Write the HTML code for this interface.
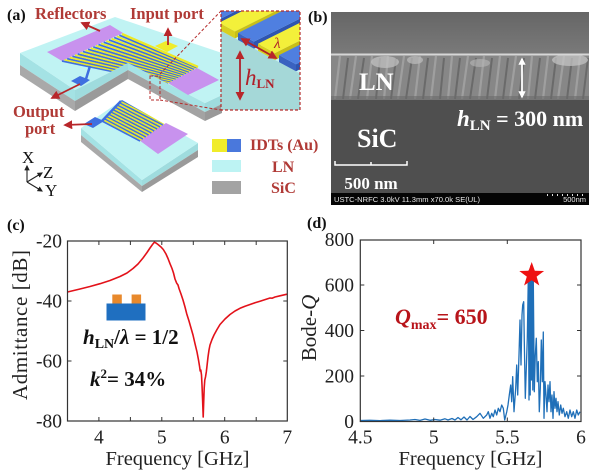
<!DOCTYPE html>
<html><head><meta charset="utf-8"><style>
html,body{margin:0;padding:0;background:#fff;}
svg{display:block;}
text{font-family:"Liberation Serif","Times New Roman",serif;}
</style></head><body>
<svg width="600" height="474" viewBox="0 0 600 474" xmlns="http://www.w3.org/2000/svg" font-family="'Liberation Serif','Times New Roman',serif">
<defs>
<clipPath id="inclip"><rect x="221" y="11" width="79" height="99"/></clipPath>
<clipPath id="semclip"><rect x="331" y="12" width="258" height="193"/></clipPath>
<clipPath id="topface"><polygon points="20,53 115,17 222,53 222,95 205,103 128,63 75,90"/></clipPath>
<clipPath id="lowface"><polygon points="81,128 122,100 198,143 142,180"/></clipPath>
<linearGradient id="semtop" x1="0" y1="0" x2="0" y2="1"><stop offset="0" stop-color="#666"/><stop offset="1" stop-color="#7a7a7a"/></linearGradient>
<marker id="ah" viewBox="0 0 10 10" refX="8" refY="5" markerWidth="5" markerHeight="5" orient="auto-start-reverse"><path d="M0,0 L10,5 L0,10 z" fill="#b8262a"/></marker>
<marker id="ahw" viewBox="0 0 10 10" refX="8" refY="5" markerWidth="4" markerHeight="4" orient="auto-start-reverse"><path d="M0,0 L10,5 L0,10 z" fill="#fff"/></marker>
<marker id="ahk" viewBox="0 0 10 10" refX="8" refY="5" markerWidth="5" markerHeight="5" orient="auto-start-reverse"><path d="M0,0 L10,5 L0,10 z" fill="#222"/></marker>
</defs>
<rect width="600" height="474" fill="#fff"/>

<!-- ============ PANEL (a) ============ -->
<polygon points="20,53 75,90 75,101 20,65" fill="#a4e2e4"/>
<polygon points="20,65 75,101 75,111 20,75" fill="#a9a9a9"/>
<polygon points="75,90 128,63 128,70 75,101" fill="#9fdcde"/>
<polygon points="75,101 128,70 128,79 75,111" fill="#9a9a9a"/>
<polygon points="128,63 205,103 205,112 128,70" fill="#a6e3e5"/>
<polygon points="128,70 205,112 205,121 128,79" fill="#a3a3a3"/>
<polygon points="205,103 222,95 222,104 205,112" fill="#9fdcde"/>
<polygon points="205,112 222,104 222,113 205,121" fill="#999"/>
<polygon points="20,53 115,17 222,53 222,95 205,103 128,63 75,90" fill="#c0f3f3"/>
<polygon points="47,52 110,25 123,33 62,61" fill="#c892ee"/>
<polygon points="168,83 197,68 219,80 188,95" fill="#c892ee"/>
<g clip-path="url(#topface)" stroke-width="1.7">
<line x1="62" y1="61" x2="168" y2="83" stroke="#3f6fe0"/>
<line x1="64.6" y1="59.8" x2="169.3" y2="82.3" stroke="#ece826"/>
<line x1="67.2" y1="58.7" x2="170.6" y2="81.6" stroke="#3f6fe0"/>
<line x1="69.8" y1="57.5" x2="171.9" y2="80.9" stroke="#ece826"/>
<line x1="72.4" y1="56.3" x2="173.2" y2="80.2" stroke="#3f6fe0"/>
<line x1="75" y1="55.1" x2="174.5" y2="79.5" stroke="#ece826"/>
<line x1="77.7" y1="54" x2="175.8" y2="78.8" stroke="#3f6fe0"/>
<line x1="80.3" y1="52.8" x2="177.1" y2="78.1" stroke="#ece826"/>
<line x1="82.9" y1="51.6" x2="178.4" y2="77.4" stroke="#3f6fe0"/>
<line x1="85.5" y1="50.4" x2="179.7" y2="76.7" stroke="#ece826"/>
<line x1="88.1" y1="49.3" x2="181" y2="76" stroke="#3f6fe0"/>
<line x1="90.7" y1="48.1" x2="182.3" y2="75.3" stroke="#ece826"/>
<line x1="93.3" y1="46.9" x2="183.7" y2="74.7" stroke="#3f6fe0"/>
<line x1="95.9" y1="45.7" x2="185" y2="74" stroke="#ece826"/>
<line x1="98.5" y1="44.6" x2="186.3" y2="73.3" stroke="#3f6fe0"/>
<line x1="101.1" y1="43.4" x2="187.6" y2="72.6" stroke="#ece826"/>
<line x1="103.7" y1="42.2" x2="188.9" y2="71.9" stroke="#3f6fe0"/>
<line x1="106.3" y1="41" x2="190.2" y2="71.2" stroke="#ece826"/>
<line x1="109" y1="39.9" x2="191.5" y2="70.5" stroke="#3f6fe0"/>
<line x1="111.6" y1="38.7" x2="192.8" y2="69.8" stroke="#ece826"/>
<line x1="114.2" y1="37.5" x2="194.1" y2="69.1" stroke="#3f6fe0"/>
<line x1="116.8" y1="36.3" x2="195.4" y2="68.4" stroke="#ece826"/>
<line x1="119.4" y1="35.2" x2="196.7" y2="67.7" stroke="#3f6fe0"/>
<line x1="122" y1="34" x2="198" y2="67" stroke="#ece826" stroke-width="2.4"/>
</g>
<polygon points="155,46 166,41 178,46 167,52" fill="#f0ec2a"/>
<polygon points="71,81 80,76 90,80 81,86" fill="#3f6fe0"/>
<line x1="86" y1="79" x2="90" y2="66" stroke="#3f6fe0" stroke-width="2.5"/>
<rect x="150" y="76" width="10" height="24" fill="none" stroke="#b52a2a" stroke-width="1" stroke-dasharray="3,2"/>
<line x1="160" y1="74" x2="221" y2="11" stroke="#b52a2a" stroke-width="1" stroke-dasharray="3,2"/>
<line x1="160" y1="100" x2="221" y2="110" stroke="#b52a2a" stroke-width="1" stroke-dasharray="3,2"/>

<!-- lower slab -->
<polygon points="81,128 142,180 142,186 81,135" fill="#a4e2e4"/>
<polygon points="81,135 142,186 142,192 81,142" fill="#a9a9a9"/>
<polygon points="142,180 198,143 198,150 142,186" fill="#9fdcde"/>
<polygon points="142,186 198,150 198,157 142,192" fill="#9a9a9a"/>
<polygon points="81,128 122,100 198,143 142,180" fill="#c0f3f3"/>
<polygon points="139,140 166,123 188,134 158,154" fill="#c892ee"/>
<g clip-path="url(#lowface)" stroke-width="1.6">
<line x1="122" y1="99" x2="167" y2="122" stroke="#ece826"/>
<line x1="120.9" y1="100.2" x2="165.6" y2="123" stroke="#3f6fe0"/>
<line x1="119.9" y1="101.3" x2="164.2" y2="124" stroke="#ece826"/>
<line x1="118.8" y1="102.5" x2="162.7" y2="125" stroke="#3f6fe0"/>
<line x1="117.8" y1="103.6" x2="161.3" y2="126" stroke="#ece826"/>
<line x1="116.7" y1="104.8" x2="159.9" y2="127" stroke="#3f6fe0"/>
<line x1="115.7" y1="105.9" x2="158.5" y2="128" stroke="#ece826"/>
<line x1="114.6" y1="107.1" x2="157.1" y2="129" stroke="#3f6fe0"/>
<line x1="113.6" y1="108.3" x2="155.6" y2="130" stroke="#ece826"/>
<line x1="112.5" y1="109.4" x2="154.2" y2="131" stroke="#3f6fe0"/>
<line x1="111.5" y1="110.6" x2="152.8" y2="132" stroke="#ece826"/>
<line x1="110.4" y1="111.7" x2="151.4" y2="133" stroke="#3f6fe0"/>
<line x1="109.4" y1="112.9" x2="149.9" y2="134" stroke="#ece826"/>
<line x1="108.3" y1="114.1" x2="148.5" y2="135" stroke="#3f6fe0"/>
<line x1="107.3" y1="115.2" x2="147.1" y2="136" stroke="#ece826"/>
<line x1="106.2" y1="116.4" x2="145.7" y2="137" stroke="#3f6fe0"/>
<line x1="105.2" y1="117.5" x2="144.3" y2="138" stroke="#ece826"/>
<line x1="104.1" y1="118.7" x2="142.8" y2="139" stroke="#3f6fe0"/>
<line x1="103.1" y1="119.8" x2="141.4" y2="140" stroke="#ece826"/>
<line x1="102" y1="121" x2="140" y2="141" stroke="#3f6fe0"/>
</g>
<line x1="121" y1="101" x2="102" y2="121" stroke="#3f6fe0" stroke-width="2.5"/>
<polygon points="84,124 95,117 104,121 93,128" fill="#3f6fe0"/>

<g stroke="#b8262a" stroke-width="1.8" fill="none">
<line x1="100" y1="31" x2="82" y2="23" marker-end="url(#ah)"/>
<line x1="168" y1="45" x2="168" y2="29" marker-end="url(#ah)"/>
<line x1="80" y1="84" x2="52" y2="98" marker-end="url(#ah)"/>
<line x1="92" y1="124" x2="65" y2="125" marker-end="url(#ah)"/>
</g>

<!-- inset -->
<g clip-path="url(#inclip)">
<rect x="221" y="11" width="79" height="99" fill="#a5d8d8"/>
<polygon points="221,11 300,11 300,73.5 221,30.8" fill="#c8f2f2"/>
<polygon points="216,21.1 286,-13.9 286,-6.9 216,28.1" fill="#2f55b0"/>
<polygon points="200,12.5 216,21.1 216,28.1 200,19.5" fill="#3a62c0"/>
<polygon points="200,12.5 216,21.1 286,-13.9 270,-22.5" fill="#4f7fe0"/>
<polygon points="235,31.4 305,-3.6 305,3.4 235,38.4" fill="#c8bf18"/>
<polygon points="219,22.7 235,31.4 235,38.4 219,29.7" fill="#d8cf20"/>
<polygon points="219,22.7 235,31.4 305,-3.6 289,-12.3" fill="#f3f03a"/>
<polygon points="254,41.6 324,6.6 324,13.6 254,48.6" fill="#2f55b0"/>
<polygon points="238,33 254,41.6 254,48.6 238,40" fill="#3a62c0"/>
<polygon points="238,33 254,41.6 324,6.6 308,-2" fill="#4f7fe0"/>
<polygon points="275,53 345,18 345,25 275,60" fill="#c8bf18"/>
<polygon points="258,43.8 275,53 275,60 258,50.8" fill="#d8cf20"/>
<polygon points="258,43.8 275,53 345,18 328,8.8" fill="#f3f03a"/>
<polygon points="296,64.3 366,29.3 366,36.3 296,71.3" fill="#2f55b0"/>
<polygon points="279,55.1 296,64.3 296,71.3 279,62.1" fill="#3a62c0"/>
<polygon points="279,55.1 296,64.3 366,29.3 349,20.1" fill="#4f7fe0"/>
<g stroke="#b0202a" stroke-width="1.8" fill="none">
<line x1="240" y1="52" x2="240" y2="99" marker-start="url(#ah)" marker-end="url(#ah)"/>
<line x1="242" y1="39" x2="276" y2="58" marker-start="url(#ah)" marker-end="url(#ah)"/>
</g>
<text x="274" y="48" font-size="15" font-style="italic" fill="#b0202a">λ</text>
<text x="245" y="85" font-size="23" font-style="italic" fill="#b0202a">h<tspan font-size="13" font-style="normal" font-weight="bold" dy="3">LN</tspan></text>
</g>
<rect x="221" y="11" width="79" height="99" fill="none" stroke="#b52a2a" stroke-width="1.2" stroke-dasharray="3,2"/>

<text x="7" y="20" font-size="16" font-weight="bold" fill="#111">(a)</text>
<g font-weight="bold" fill="#b03a36" font-size="16.5">
<text x="35" y="19">Reflectors</text>
<text x="130" y="19">Input port</text>
<text x="13" y="117">Output</text>
<text x="25" y="134">port</text>
<text x="250" y="150" font-size="16">IDTs (Au)</text>
<text x="272" y="172" font-size="16">LN</text>
<text x="271" y="193" font-size="16">SiC</text>
</g>
<rect x="212" y="139" width="15" height="13" fill="#f0ec2a"/>
<rect x="227" y="139" width="14" height="13" fill="#4a78dc"/>
<rect x="212" y="160" width="29" height="12" fill="#bdf3f3"/>
<rect x="212" y="181" width="29" height="13" fill="#a3a3a3"/>
<g stroke="#222" stroke-width="1.1" fill="none">
<line x1="27" y1="182" x2="27" y2="166" marker-end="url(#ahk)"/>
<line x1="27" y1="182" x2="42" y2="173" marker-end="url(#ahk)"/>
<line x1="27" y1="182" x2="42" y2="191" marker-end="url(#ahk)"/>
</g>
<g font-size="17" fill="#111">
<text x="22" y="163">X</text>
<text x="43" y="178">Z</text>
<text x="45" y="196">Y</text>
</g>

<!-- ============ PANEL (b) ============ -->
<text x="308" y="22" font-size="16" font-weight="bold" fill="#111">(b)</text>
<g clip-path="url(#semclip)">
<rect x="331" y="12" width="258" height="43" fill="url(#semtop)"/>
<rect x="331" y="55" width="258" height="45" fill="#878787"/>
<g stroke="#a8a8a8" stroke-width="2.2" opacity="0.75">
<path d="M340,56 L335,99 M356,56 L350,99 M372,56 L367,99 M388,56 L384,99 M404,56 L398,99 M420,56 L415,99 M436,56 L431,99 M452,56 L448,99 M468,56 L462,99 M484,56 L479,99 M500,56 L495,99 M516,56 L510,99 M532,56 L528,99 M548,56 L543,99 M564,56 L558,99 M580,56 L575,99"/>
</g>
<g stroke="#5e5e5e" stroke-width="2" opacity="0.7">
<path d="M348,58 L343,99 M364,58 L358,99 M380,58 L376,99 M396,58 L391,99 M412,58 L406,99 M428,58 L423,99 M444,58 L440,99 M460,58 L455,99 M476,58 L470,99 M492,58 L487,99 M508,58 L503,99 M524,58 L519,99 M540,58 L535,99 M556,58 L551,99 M572,58 L567,99 M588,58 L583,99"/>
</g>
<ellipse cx="385" cy="62" rx="14" ry="6" fill="#c4c4c4" opacity="0.7"/>
<ellipse cx="415" cy="60" rx="8" ry="4" fill="#bdbdbd" opacity="0.7"/>
<ellipse cx="480" cy="63" rx="10" ry="4" fill="#b8b8b8" opacity="0.6"/>
<ellipse cx="570" cy="60" rx="18" ry="6" fill="#c8c8c8" opacity="0.7"/>
<rect x="331" y="53.5" width="258" height="2" fill="#d6d6d6"/>
<rect x="331" y="96" width="258" height="4" fill="#6a6a6a" opacity="0.6"/>
<rect x="331" y="100" width="258" height="93" fill="#4f4f4f"/>
<rect x="331" y="193" width="258" height="12" fill="#050505"/>
<text x="334" y="202" font-size="7.5" fill="#e8e8e8" style="font-family:'Liberation Sans',sans-serif" textLength="146" lengthAdjust="spacingAndGlyphs">USTC-NRFC 3.0kV 11.3mm x70.0k SE(UL)</text>
<text x="586" y="202" font-size="7.5" fill="#e8e8e8" text-anchor="end" style="font-family:'Liberation Sans',sans-serif">500nm</text>
<g fill="#ddd">
<rect x="547" y="194" width="1" height="2"/><rect x="552" y="194" width="1" height="2"/><rect x="557" y="194" width="1" height="2"/><rect x="562" y="194" width="1" height="2"/><rect x="567" y="194" width="1" height="2"/><rect x="572" y="194" width="1" height="2"/><rect x="577" y="194" width="1" height="2"/><rect x="582" y="194" width="1" height="2"/>
</g>
</g>
<g fill="#fff" font-weight="bold">
<text x="359" y="90" font-size="25">LN</text>
<text x="357" y="147" font-size="26">SiC</text>
<text x="457" y="126" font-size="23"><tspan font-style="italic">h</tspan><tspan font-size="15" dy="4">LN</tspan><tspan font-size="22" dy="-4"> = 300 nm</tspan></text>
<text x="371" y="189" font-size="17" text-anchor="middle">500 nm</text>
</g>
<g stroke="#fff" stroke-width="1.5" fill="none">
<path d="M335,161 L335,165 L407,165 L407,161 M371,165 L371,162"/>
<line x1="522" y1="59" x2="522" y2="97" marker-start="url(#ahw)" marker-end="url(#ahw)" stroke-width="1.8"/>
</g>

<!-- ============ PANEL (c) ============ -->
<text x="7" y="230" font-size="16" font-weight="bold" fill="#111">(c)</text>
<rect x="106.5" y="303.5" width="39" height="17" fill="#1f6fc0"/>
<rect x="112.3" y="294.5" width="9.5" height="9" fill="#e8892c"/>
<rect x="131.6" y="294.5" width="9.5" height="9" fill="#e8892c"/>
<path d="M67.5,292 L80,289 L90,286.5 L100,283.7 L110,280.5 L120,276.5 L127,273 L133,268.5 L138,264 L143,258 L147,252.5 L150,248 L152.5,244.5 L154.3,242.3 L156,243 L158,244.5 L161,247 L163.3,249.5 L166,254 L168,258.5 L170,263.7 L172,268.5 L173.5,273 L175,279 L176.7,283.2 L178,285 L179,288.5 L181,294 L183,300 L185,307 L186.7,313.7 L189,321 L191,328 L193,335 L195,343.7 L197,352 L198.5,360 L199.5,366 L200.2,371 L200.8,370 L201.5,375 L202,385 L202.6,400 L203.2,417 L203.7,402 L204.2,388 L204.8,380 L205.5,377 L206.3,372 L207,366 L208,357 L209,350 L210,345 L212,339.5 L214,335 L217,329.5 L220,324.5 L225,319 L230,314.5 L235,311 L240,308.3 L245,306.2 L250,304.5 L255,302.8 L260,301.2 L265,299.6 L270,298 L272,298.2 L275,297 L280,295.8 L287,294.2" fill="none" stroke="#e3121a" stroke-width="1.6" stroke-linejoin="round"/>
<rect x="67.5" y="241" width="219.8" height="180" fill="none" stroke="#333" stroke-width="1.2"/>
<g stroke="#333" stroke-width="1">
<path d="M98.9,421 v-4 M130.4,421 v-4 M161.8,421 v-4 M193.3,421 v-4 M224.7,421 v-4 M256.2,421 v-4 M98.9,241 v4 M130.4,241 v4 M161.8,241 v4 M193.3,241 v4 M224.7,241 v4 M256.2,241 v4 M67.5,301 h4 M67.5,361 h4 M287.3,301 h-4 M287.3,361 h-4"/>
</g>
<g font-size="19.5" fill="#222" text-anchor="end">
<text x="62" y="247.5">-20</text>
<text x="62" y="307.5">-40</text>
<text x="62" y="367.5">-60</text>
<text x="62" y="427.5">-80</text>
</g>
<g font-size="19.5" fill="#222" text-anchor="middle">
<text x="98.9" y="443.5">4</text>
<text x="161.8" y="443.5">5</text>
<text x="224.7" y="443.5">6</text>
<text x="287.3" y="443.5">7</text>
<text x="177.5" y="465" font-size="20.5">Frequency [GHz]</text>
</g>
<text transform="translate(27,325) rotate(-90)" font-size="21" fill="#222" text-anchor="middle" textLength="150">Admittance [dB]</text>
<text x="83" y="344" font-size="21" font-weight="bold" fill="#111"><tspan font-style="italic">h</tspan><tspan font-size="14" dy="4">LN</tspan><tspan dy="-4">/</tspan><tspan font-style="italic">λ</tspan> = 1/2</text>
<text x="90" y="386" font-size="21" font-weight="bold" fill="#111"><tspan font-style="italic">k</tspan><tspan font-size="13" dy="-8">2</tspan><tspan dy="8">= 34%</tspan></text>

<!-- ============ PANEL (d) ============ -->
<text x="307" y="228" font-size="16" font-weight="bold" fill="#111">(d)</text>
<rect x="528.5" y="270" width="4.5" height="110" fill="#1f6fb8"/>
<path d="M360,420.5 L370,420.3 L380,420.6 L390,420.2 L400,420.5 L410,420 L415,419.5 L420,420.4 L425,419 L430,420.3 L435,419.5 L440,420.2 L445,418.8 L448,420 L452,418.5 L455,420 L458,417.5 L461,419.8 L464,417 L467,420 L470,416.5 L473,419.5 L476.7,416.7 L480,413.3 L483.3,418.3 L486.7,415 L488.3,411.7 L490,418.3 L491.7,413.3 L493.3,416.7 L495,410 L496.7,415 L498.3,408.3 L500,411.7 L501.7,405 L503.3,408.3 L504.7,420 L506.7,412 L508,405 L509.3,395 L510.7,385 L511.7,401.7 L512.7,376.7 L514,411.7 L515.7,388.3 L516.7,365 L517.7,395 L519,355 L520,320 L521,365 L522,315 L522.7,305 L523.7,301.7 L524.3,341.7 L525.3,398.3 L526.3,368.3 L527.3,338.3 L528.3,278 L529,400 L529.5,270 L530.2,395 L530.8,266 L531.5,380 L532.2,268 L532.8,390 L533.3,280 L534.3,391.7 L535.3,355 L536.3,338.3 L537.3,381.7 L538.3,361.7 L539.3,411.7 L540.3,388.3 L541.3,340 L542.3,381.7 L543.3,332 L544,418.3 L545,381.7 L546,395 L547,411.7 L548,385 L549,401.7 L550,381.7 L551,411.7 L552,395 L553,418.3 L554,391.7 L555,408.3 L556,398.3 L557,411.7 L558,401.7 L559.3,415 L560.7,405 L562,413.3 L563.3,408.3 L565,416.7 L566.7,411.7 L568.3,418.3 L570,410 L571.7,416.7 L573.3,411.7 L575,418.3 L576.7,410 L578.3,415 L580,411.7" fill="none" stroke="#1f6fb8" stroke-width="1.3" stroke-linejoin="round"/>
<polygon points="531.7,262 534.8,270.8 544.1,271 536.6,276.6 539.3,285.5 531.7,280.2 524.1,285.5 526.8,276.6 519.3,271 528.6,270.8" fill="#ee1111"/>
<rect x="360.3" y="240" width="220.7" height="181.5" fill="none" stroke="#333" stroke-width="1.2"/>
<g stroke="#333" stroke-width="1">
<path d="M433.7,421.5 v-4 M507.3,421.5 v-4 M433.7,240 v4 M507.3,240 v4 M360.3,376 h4 M360.3,330.5 h4 M360.3,285 h4 M581,376 h-4 M581,330.5 h-4 M581,285 h-4"/>
</g>
<g font-size="19.5" fill="#222" text-anchor="end">
<text x="354" y="246">800</text>
<text x="354" y="291.5">600</text>
<text x="354" y="337">400</text>
<text x="354" y="382.5">200</text>
<text x="354" y="428">0</text>
</g>
<g font-size="19.5" fill="#222" text-anchor="middle">
<text x="360.3" y="443.5">4.5</text>
<text x="433.7" y="443.5">5</text>
<text x="507.3" y="443.5">5.5</text>
<text x="581" y="443.5">6</text>
<text x="470.5" y="465" font-size="20.5">Frequency [GHz]</text>
</g>
<text transform="translate(316,328) rotate(-90)" font-size="21" fill="#222" text-anchor="middle">Bode-<tspan font-style="italic">Q</tspan></text>
<text x="395" y="324" font-size="22" font-weight="bold" fill="#b8141a"><tspan font-style="italic">Q</tspan><tspan font-size="14" dy="5">max</tspan><tspan dy="-5">= 650</tspan></text>
</svg>
</body></html>
